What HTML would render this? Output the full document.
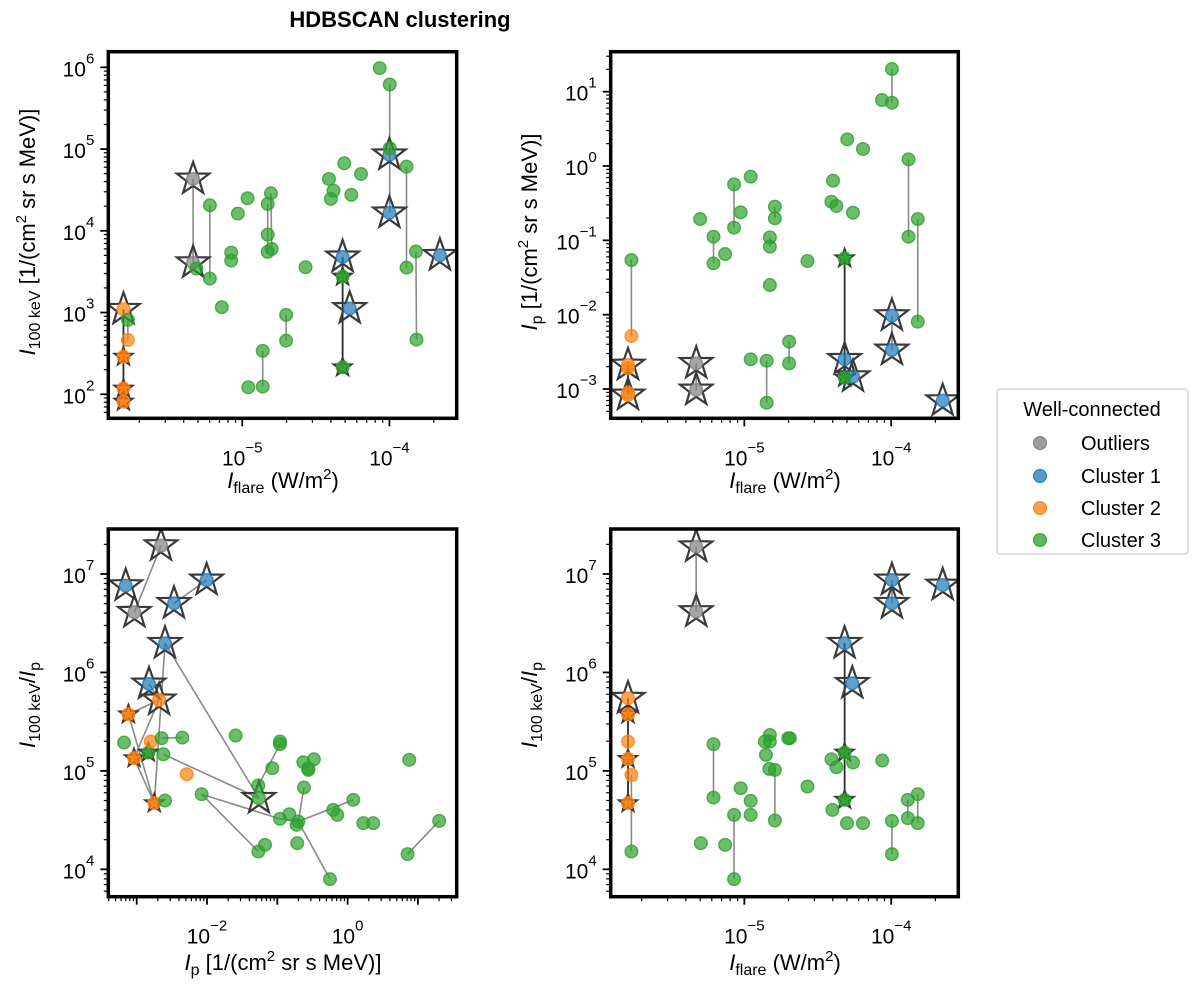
<!DOCTYPE html>
<html><head><meta charset="utf-8"><style>
body{margin:0;background:#fff;}
svg{display:block;font-family:"Liberation Sans",Arial,sans-serif;}
</style></head><body>
<svg id="fig" width="1200" height="991" viewBox="0 0 1200 991" xmlns="http://www.w3.org/2000/svg">
<text x="400" y="27" text-anchor="middle" font-size="22" font-weight="bold">HDBSCAN clustering</text>
<g>
<rect x="997" y="389" width="191" height="165" rx="3" fill="#fff" stroke="#ccc" stroke-width="1.2"/>
<text x="1092" y="416" text-anchor="middle" font-size="20">Well-connected</text>
<g><circle cx="1040" cy="443" r="6.5" fill="#7f7f7f" fill-opacity="0.75" stroke="#7f7f7f"/><text x="1081" y="450" font-size="20">Outliers</text></g>
<g><circle cx="1040" cy="476" r="6.5" fill="#1f77b4" fill-opacity="0.75" stroke="#1f77b4"/><text x="1081" y="483" font-size="20">Cluster 1</text></g>
<g><circle cx="1040" cy="508" r="6.5" fill="#ff7f0e" fill-opacity="0.75" stroke="#ff7f0e"/><text x="1081" y="515" font-size="20">Cluster 2</text></g>
<g><circle cx="1040" cy="540" r="6.5" fill="#2ca02c" fill-opacity="0.75" stroke="#2ca02c"/><text x="1081" y="547" font-size="20">Cluster 3</text></g>
</g>
</svg>
<script>
// ---- data (log10 values) ----
// top-left: I100keV vs Iflare
const tlX=[-5.807,-5.334,-5.334,-4,-4,-4.318,-4.27,-3.657,
 -5.807,-5.807,-5.807,-4.318,-4.318,
 -4.066,-3.998,-3.998,-3.884,-4.307,-4.193,-4.411,-4.38,-4.398,-4.259,-4.805,-4.827,-4.964,-5.03,-5.22,-4.827,-4.827,-4.8,-5.075,-5.075,-5.311,-5.22,-4.57,-5.139,-4.702,-4.702,-4.861,-4.959,-4.861,-3.884,-3.82,-3.816,-5.777,-5.777];
const tlY=[3.04,4.634,3.61,4.93,4.22,3.68,3.05,3.70,
 2.46,2.07,1.91,3.44,2.33,
 5.99,5.79,5.01,4.785,4.826,4.695,4.634,4.49,4.39,4.44,4.459,4.329,4.398,4.21,4.312,3.953,3.742,3.778,3.733,3.636,3.538,3.415,3.554,3.065,2.971,2.657,2.531,2.086,2.094,3.55,3.746,2.669,2.91,2.665];
const tlC=[2,0,0,1,1,1,1,1, 2,2,2,3,3, 3,3,3,3,3,3,3,3,3,3,3,3,3,3,3,3,3,3,3,3,3,3,3,3,3,3,3,3,3,3,3,3,3,2];
const tlM="BBBBBBBBsssssooooooooooooooooooooooooooooooooooo";
const tlSeg=[[-5.334,4.634,-5.334,3.61],[-5.22,4.312,-5.22,3.415],[-4.827,4.329,-4.827,3.742],[-4.805,4.459,-4.8,3.778],[-3.998,5.79,-3.998,4.22],[-3.884,4.785,-3.884,3.55],[-3.82,3.746,-3.816,2.669],[-4.861,2.531,-4.861,2.094],[-4.702,2.971,-4.702,2.657],[-5.777,2.91,-5.777,2.665]];
const tlDark=[[-4.318,3.68,-4.318,2.33],[-5.807,3.04,-5.807,1.91]];

// top-right: Ip vs Iflare
const trX=[-5.792,-5.792,-5.328,-5.328,-3.995,-3.995,-4.317,-4.26,-3.649,
 -4.317,-4.317,
 -3.995,-4.063,-3.995,-4.299,-4.192,-3.882,-3.882,-3.819,-3.819,-4.396,-4.407,-4.373,-4.26,-4.957,-5.07,-5.025,-5.07,-4.792,-4.792,-4.826,-4.826,-4.826,-5.301,-5.21,-5.21,-5.131,-4.57,-4.695,-4.695,-4.957,-4.848,-4.848,-5.769,-5.769,-5.792,-5.792];
const trY=[-2.677,-3.08,-2.655,-3.013,-2.013,-2.475,-2.601,-2.834,-3.157,
 -1.242,-2.848,
 1.305,0.888,0.852,0.359,0.229,0.09,-0.951,-0.713,-2.094,-0.197,-0.48,-0.538,-0.628,-0.143,-0.247,-0.623,-0.83,-0.547,-0.704,-0.96,-1.085,-1.601,-0.713,-0.951,-1.309,-1.184,-1.278,-2.363,-2.655,-2.601,-2.619,-3.184,-1.265,-2.287,-2.72,-3.05];
const trC=[2,2,0,0,1,1,1,1,1, 3,3, 3,3,3,3,3,3,3,3,3,3,3,3,3,3,3,3,3,3,3,3,3,3,3,3,3,3,3,3,3,3,3,3,3,2,2,2];
const trM="BBBBBBBBBssoooooooooooooooooooooooooooooooooooo";
const trSeg=[[-3.995,1.305,-3.995,0.852],[-3.995,-2.013,-3.995,-2.475],[-3.882,0.09,-3.882,-0.951],[-3.819,-0.713,-3.819,-2.094],[-5.769,-1.265,-5.769,-2.287],[-5.21,-0.951,-5.21,-1.309],[-5.07,-0.247,-5.07,-0.83],[-4.848,-2.619,-4.848,-3.184],[-4.695,-2.363,-4.695,-2.655],[-4.826,-0.96,-4.826,-1.085],[-4.792,-0.547,-4.792,-0.704],[-5.328,-2.655,-5.328,-3.013]];
const trDark=[[-4.317,-1.242,-4.317,-2.848],[-5.792,-2.677,-5.792,-3.08]];

// bottom-left: ratio vs Ip
const blX=[-2.654,-3.033,-3.156,-2.469,-2.005,-2.597,-2.825,-2.682,-1.261,
 -3.118,-3.038,-2.749,-2.834,
 -2.801,-2.289,
 -3.18,-2.645,-2.351,-2.621,-2.597,-2.076,-1.592,-1.27,-1.071,-0.962,-0.962,-0.63,-0.559,-0.479,-0.559,-0.621,-0.962,-0.829,-0.701,-0.725,-0.716,-0.204,-0.147,0.081,0.223,0.365,0.877,0.853,1.303,-1.27,-1.175,-0.251];
const blY=[7.288,6.611,6.882,6.702,6.939,6.296,5.883,5.721,4.722,
 5.575,5.129,4.672,5.186,
 5.298,4.966,
 5.288,5.332,5.338,5.169,4.699,4.763,5.359,4.851,5.027,5.298,5.271,5.088,5.027,5.118,5.01,4.831,4.513,4.56,4.486,4.452,4.266,4.604,4.553,4.706,4.469,4.469,5.112,4.154,4.492,4.181,4.249,3.9];
const blC=[0,0,1,1,1,1,1,2,3, 2,2,2,3, 2,2, 3,3,3,3,3,3,3,3,3,3,3,3,3,3,3,3,3,3,3,3,3,3,3,3,3,3,3,3,3,3,3,3];
const blM="BBBBBBBBBssssoooooooooooooooooooooooooooooooooo";
const blSeg=[[-2.654,7.288,-3.033,6.611],[-2.469,6.702,-2.005,6.939],[-2.597,6.296,-1.261,4.722],[-2.597,6.296,-2.749,4.672],[-2.682,5.721,-3.118,5.575],[-2.682,5.721,-3.038,5.129],[-3.118,5.575,-2.749,4.672],[-3.038,5.129,-2.749,4.672],[-2.621,5.169,-1.261,4.722],[-2.076,4.763,-0.962,4.513],[-2.076,4.763,-1.27,4.181],[-0.962,5.271,-1.27,4.851],[-0.621,4.831,-0.701,4.486],[-0.701,4.486,0.081,4.706],[-0.701,4.486,-0.251,3.9],[0.853,4.154,1.303,4.492],[-2.645,5.332,-2.351,5.338],[-0.962,4.513,-0.701,4.486],[-2.682,5.721,-2.825,5.883]];
const blDark=[];

// bottom-right: ratio vs Iflare
const brX=[-5.328,-5.328,-3.995,-3.995,-3.649,-4.317,-4.265,-5.792,
 -5.792,-5.792,-5.792,-4.317,-4.317,
 -5.792,-5.769,
 -5.769,-5.21,-5.21,-5.296,-5.131,-5.07,-5.07,-5.025,-4.957,-4.957,-4.826,-4.86,-4.826,-4.853,-4.83,-4.792,-4.792,-4.701,-4.69,-4.57,-4.407,-4.373,-4.26,-4.4,-4.301,-4.192,-4.061,-3.995,-3.995,-3.887,-3.887,-3.819,-3.819];
const brY=[7.277,6.618,6.939,6.702,6.888,6.296,5.89,5.738,
 5.575,5.122,4.672,5.186,4.706,
 5.298,4.959,
 4.181,5.271,4.729,4.266,4.249,4.553,3.9,4.824,4.695,4.553,5.365,5.298,5.298,5.162,5.02,5.01,4.496,5.332,5.332,4.841,5.118,5.037,5.085,4.604,4.469,4.469,5.105,4.492,4.154,4.706,4.52,4.763,4.469];
const brC=[0,0,1,1,1,1,1,2, 2,2,2,3,3, 2,2, 3,3,3,3,3,3,3,3,3,3,3,3,3,3,3,3,3,3,3,3,3,3,3,3,3,3,3,3,3,3,3,3,3];
const brM="BBBBBBBBsssssoooooooooooooooooooooooooooooooooooo";
const brSeg=[[-5.328,7.277,-5.328,6.618],[-5.769,4.959,-5.769,4.181],[-5.21,5.271,-5.21,4.729],[-5.07,4.553,-5.07,3.9],[-4.792,5.01,-4.792,4.496],[-3.995,4.492,-3.995,4.154],[-3.887,4.706,-3.887,4.52],[-3.819,4.763,-3.819,4.469],[-3.995,6.939,-3.995,6.702]];
const brDark=[[-4.317,6.296,-4.317,4.706],[-5.792,5.738,-5.792,4.672]];

const xTicksFlare=[-5,-4];
const yTicksI100=[2,3,4,5,6];
const yTicksIp=[-3,-2,-1,0,1];
const xTicksIp=[-2,0];
const yTicksRatio=[4,5,6,7];

const COLORS=["#7f7f7f","#1f77b4","#ff7f0e","#2ca02c"];
const NS="http://www.w3.org/2000/svg";
const fig=document.getElementById('fig');
function mk(tag,attrs,parent){const e=document.createElementNS(NS,tag);for(const k in attrs)e.setAttribute(k,attrs[k]);(parent||fig).appendChild(e);return e;}
function starPath(cx,cy,R){const r=R*0.4;let d="";for(let i=0;i<10;i++){const a=-Math.PI/2+i*Math.PI/5;const rr=i%2?r:R;d+=(i?"L":"M")+(cx+rr*Math.cos(a)).toFixed(1)+","+(cy+rr*Math.sin(a)).toFixed(1);}return d+"Z";}

function panel(name,box,xr,yr,xt,yt,X,Y,C,M,seg,dark){
  const g=mk('g',{});
  
  
  const sx=v=>box.l+(v-xr[0])/(xr[1]-xr[0])*(box.r-box.l);
  const sy=v=>box.b-(v-yr[0])/(yr[1]-yr[0])*(box.b-box.t);
  const tg=mk('g',{stroke:'#000'},g);
  
  
  for(let d=Math.floor(xr[0]);d<=Math.ceil(xr[1]);d++){for(let m=1;m<10;m++){const v=d+Math.log10(m);if(v<xr[0]||v>xr[1])continue;const x=sx(v);mk('line',{x1:x,x2:x,y1:box.b,y2:box.b+(m==1?8:4.5),'stroke-width':m==1?1.8:1.2},tg);}}
  for(let d=Math.floor(yr[0]);d<=Math.ceil(yr[1]);d++){for(let m=1;m<10;m++){const v=d+Math.log10(m);if(v<yr[0]||v>yr[1])continue;const y=sy(v);mk('line',{y1:y,y2:y,x1:box.l,x2:box.l-(m==1?8:4.5),'stroke-width':m==1?1.8:1.2},tg);}}
  xt.forEach(v=>{const t=mk('text',{x:sx(v),y:box.b+47,'text-anchor':'middle','font-size':21},g);
    
    
    t.innerHTML='10<tspan dy="-13" font-size="15">'+(v<0?'\u2212'+(-v):v)+'</tspan>';});
  yt.forEach(v=>{const t=mk('text',{x:box.l-14,y:sy(v)+9,'text-anchor':'end','font-size':21},g);
    
    
    t.innerHTML='10<tspan dy="-13" font-size="15">'+(v<0?'\u2212'+(-v):v)+'</tspan>';});
  const clip=mk('clipPath',{id:name+'-clip'},g);mk('rect',{x:box.l,y:box.t,width:box.r-box.l,height:box.b-box.t},clip);
  const pg=mk('g',{'clip-path':'url(#'+name+'-clip)'},g);
  
  
  seg.forEach(s=>{const l=mk('line',{x1:sx(s[0]),y1:sy(s[1]),x2:sx(s[2]),y2:sy(s[3]),stroke:'#8a8a8a','stroke-width':1.6},pg);
    
    });
  dark.forEach(s=>{const l=mk('line',{x1:sx(s[0]),y1:sy(s[1]),x2:sx(s[2]),y2:sy(s[3]),stroke:'#2a2a2a','stroke-width':1.8},pg);
    
    });
  for(let i=0;i<X.length;i++){const x=sx(X[i]),y=sy(Y[i]),c=COLORS[C[i]];
    if(M[i]=='B'){const s=mk('path',{d:starPath(x,y,17),fill:'none',stroke:'#3a3a3a','stroke-width':2.2,'stroke-linejoin':'miter'},pg);
      
      }
    else if(M[i]=='s'){const s=mk('path',{d:starPath(x,y,10),fill:c,'fill-opacity':0.8,stroke:'#3a3a3a','stroke-width':1.6},pg);
      
      }
  }
  for(let i=0;i<X.length;i++){const c=COLORS[C[i]];
    const p=mk('circle',{cx:sx(X[i]),cy:sy(Y[i]),r:6.3,fill:c,'fill-opacity':0.7,stroke:c,'stroke-opacity':0.8,'stroke-width':1.4},pg);
    
    }
  const fr=mk('rect',{x:box.l,y:box.t,width:box.r-box.l,height:box.b-box.t,fill:'none',stroke:'#000','stroke-width':3.5},g);
  
  
}
const flareR=[-5.91,-3.543];
panel('panel-i100-vs-flare',{l:108.3,r:456.7,t:51.7,b:418.3},flareR,[1.706,6.191],xTicksFlare,yTicksI100,tlX,tlY,tlC,tlM,tlSeg,tlDark);
panel('panel-ip-vs-flare',{l:610.7,r:958.3,t:51.7,b:418.3},flareR,[-3.394,1.538],xTicksFlare,yTicksIp,trX,trY,trC,trM,trSeg,trDark);
panel('panel-ratio-vs-ip',{l:108.3,r:456.7,t:529,b:896.7},[-3.404,1.552],[3.722,7.457],xTicksIp,yTicksRatio,blX,blY,blC,blM,blSeg,blDark);
panel('panel-ratio-vs-flare',{l:610.7,r:958.3,t:529,b:896.7},flareR,[3.722,7.457],xTicksFlare,yTicksRatio,brX,brY,brC,brM,brSeg,brDark);

function label(name,x,y,rot,html){const t=mk('text',{x:x,y:y,'text-anchor':'middle','font-size':22,transform:rot?'rotate(-90 '+x+' '+y+')':''});
  
  
  t.innerHTML=html;}
const flareLab='<tspan font-style="italic">I</tspan><tspan font-size="16" dy="5">flare</tspan><tspan dy="-5"> (W/m</tspan><tspan font-size="15" dy="-9">2</tspan><tspan dy="9">)</tspan>';
const ipLab='<tspan font-style="italic">I</tspan><tspan font-size="16" dy="5">p</tspan><tspan dy="-5"> [1/(cm</tspan><tspan font-size="15" dy="-9">2</tspan><tspan dy="9"> sr s MeV)]</tspan>';
const i100Lab='<tspan font-style="italic">I</tspan><tspan font-size="16" dy="5">100 keV</tspan><tspan dy="-5"> [1/(cm</tspan><tspan font-size="15" dy="-9">2</tspan><tspan dy="9"> sr s MeV)]</tspan>';
const ratioLab='<tspan font-style="italic">I</tspan><tspan font-size="16" dy="5">100 keV</tspan><tspan dy="-5">/</tspan><tspan font-style="italic">I</tspan><tspan font-size="16" dy="5">p</tspan>';
label('x-axis-title-top-left',283,488,false,flareLab);
label('x-axis-title-top-right',785,488,false,flareLab);
label('x-axis-title-bottom-left',283,970,false,ipLab);
label('x-axis-title-bottom-right',785,970,false,flareLab);
label('y-axis-title-top-left',35,232,true,i100Lab);
label('y-axis-title-top-right',537,232,true,ipLab);
label('y-axis-title-bottom-left',35,705,true,ratioLab);
label('y-axis-title-bottom-right',537,705,true,ratioLab);
</script>
</body></html>
